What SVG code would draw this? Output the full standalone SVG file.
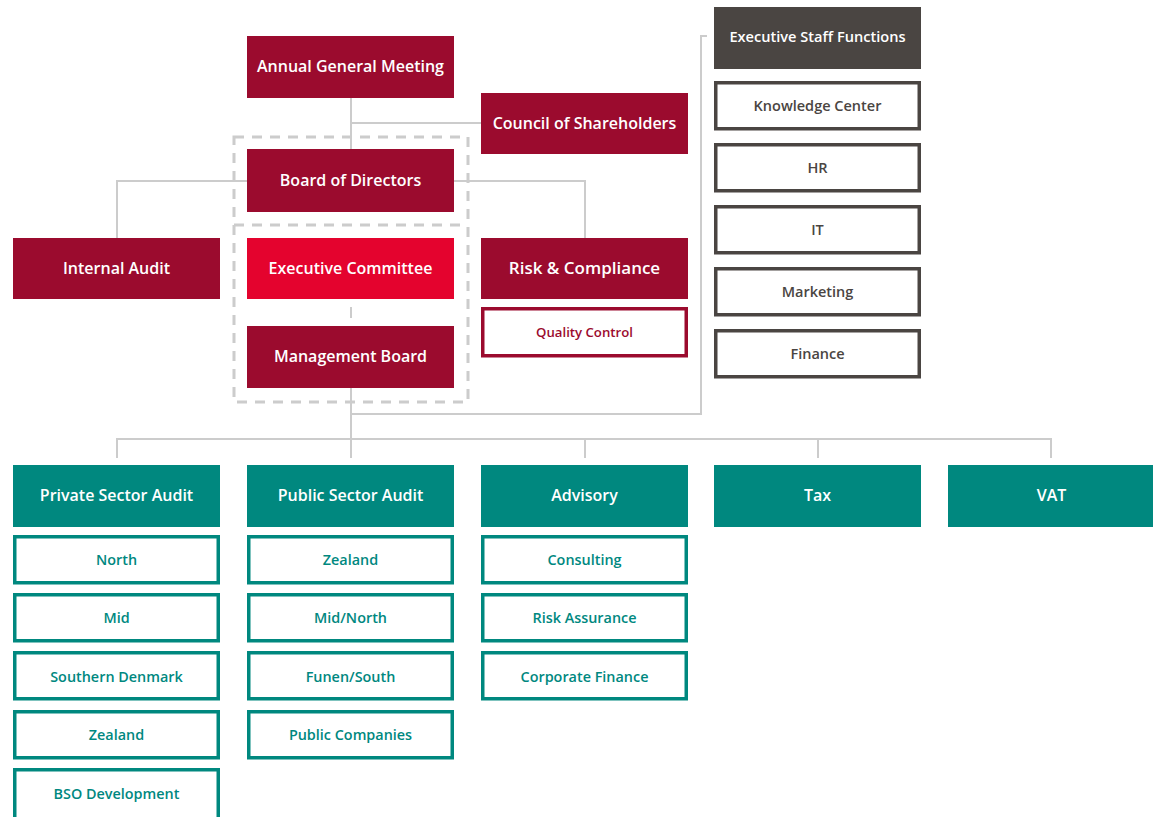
<svg xmlns="http://www.w3.org/2000/svg" width="1153" height="817" viewBox="0 0 1153 817">
<style>
.dr{fill:#9b0b2e}
.br{fill:#e4032e}
.tl{fill:#00887f}
.gy{fill:#4a4542}
.ot{fill:#fff;stroke:#00887f;stroke-width:3.5}
.og{fill:#fff;stroke:#4a4542;stroke-width:3.5}
.or{fill:#fff;stroke:#9b0b2e;stroke-width:3.5}
text{font-family:"Open Sans","Noto Sans","Liberation Sans",sans-serif;font-weight:600;text-anchor:middle;dominant-baseline:central}
.w{fill:#fff;font-size:16px}
.st{fill:#00887f;font-size:14.4px}
.sg{fill:#4a4542;font-size:14.5px}
.sr{fill:#9b0b2e;font-size:13.2px}
.ln{fill:none;stroke:#cccccc;stroke-width:2}
.ds{fill:none;stroke:#cccccc;stroke-width:3;stroke-dasharray:10 8}
</style>
<rect width="1153" height="817" fill="#fff"/>
<g id="connectors">
<path class="ln" d="M351 98V149M351 123H481"/>
<path class="ln" d="M247 181H117V238M454 181H585V238"/>
<path class="ln" d="M351 307V318"/>
<path class="ln" d="M707 36H701V414H351M351 388V458"/>
<path class="ln" d="M117 458V439H1051V458M585 439V458M818 439V458"/>
<rect class="ds" x="234" y="137" width="234" height="265"/>
<path class="ds" d="M234 225H468"/>
</g>
<g id="agm"><rect class="dr" x="247" y="36" width="207" height="62"/><text class="w" x="350.5" y="66">Annual General Meeting</text></g>
<g id="council"><rect class="dr" x="481" y="93" width="207" height="61"/><text class="w" x="584.5" y="122.5">Council of Shareholders</text></g>
<g id="board"><rect class="dr" x="247" y="149" width="207" height="63"/><text class="w" x="350.5" y="179.5">Board of Directors</text></g>
<g id="internal-audit"><rect class="dr" x="13" y="238" width="207" height="61"/><text class="w" x="116.5" y="267.5">Internal Audit</text></g>
<g id="exec-committee"><rect class="br" x="247" y="238" width="207" height="61"/><text class="w" x="350.5" y="267.5">Executive Committee</text></g>
<g id="risk"><rect class="dr" x="481" y="238" width="207" height="61"/><text class="w" x="584.5" y="267.5" style="font-size:17px">Risk &amp; Compliance</text></g>
<g id="quality"><rect class="or" x="482.75" y="308.75" width="203.5" height="47"/><text class="sr" x="584.5" y="331.5">Quality Control</text></g>
<g id="mgmt"><rect class="dr" x="247" y="326" width="207" height="62"/><text class="w" x="350.5" y="356">Management Board</text></g>
<g id="esf"><rect class="gy" x="714" y="7" width="207" height="62"/><text class="w" x="817.5" y="36" style="font-size:14.6px">Executive Staff Functions</text></g>
<g id="knowledge"><rect class="og" x="715.75" y="82.75" width="203.5" height="46"/><text class="sg" x="817.5" y="105.5">Knowledge Center</text></g>
<g id="hr"><rect class="og" x="715.75" y="144.75" width="203.5" height="46"/><text class="sg" x="817.5" y="167.5">HR</text></g>
<g id="it"><rect class="og" x="715.75" y="206.75" width="203.5" height="46"/><text class="sg" x="817.5" y="229.5">IT</text></g>
<g id="marketing"><rect class="og" x="715.75" y="268.75" width="203.5" height="46"/><text class="sg" x="817.5" y="291.5">Marketing</text></g>
<g id="finance"><rect class="og" x="715.75" y="330.75" width="203.5" height="46"/><text class="sg" x="817.5" y="353.5">Finance</text></g>
<g id="private"><rect class="tl" x="13" y="465" width="207" height="62"/><text class="w" x="116.5" y="495">Private Sector Audit</text></g>
<g id="public"><rect class="tl" x="247" y="465" width="207" height="62"/><text class="w" x="350.5" y="495">Public Sector Audit</text></g>
<g id="advisory"><rect class="tl" x="481" y="465" width="207" height="62"/><text class="w" x="584.5" y="495">Advisory</text></g>
<g id="tax"><rect class="tl" x="714" y="465" width="207" height="62"/><text class="w" x="817.5" y="495">Tax</text></g>
<g id="vat"><rect class="tl" x="948" y="465" width="207" height="62"/><text class="w" x="1051.5" y="495">VAT</text></g>
<g id="north"><rect class="ot" x="14.75" y="536.75" width="203.5" height="46"/><text class="st" x="116.5" y="559.5">North</text></g>
<g id="mid"><rect class="ot" x="14.75" y="594.75" width="203.5" height="46"/><text class="st" x="116.5" y="617.5">Mid</text></g>
<g id="southern"><rect class="ot" x="14.75" y="652.75" width="203.5" height="46"/><text class="st" x="116.5" y="676">Southern Denmark</text></g>
<g id="zealand1"><rect class="ot" x="14.75" y="711.75" width="203.5" height="46"/><text class="st" x="116.5" y="734.5">Zealand</text></g>
<g id="bso"><rect class="ot" x="14.75" y="769.75" width="203.5" height="50"/><text class="st" x="116.5" y="793.5">BSO Development</text></g>
<g id="zealand2"><rect class="ot" x="248.75" y="536.75" width="203.5" height="46"/><text class="st" x="350.5" y="559.5">Zealand</text></g>
<g id="midnorth"><rect class="ot" x="248.75" y="594.75" width="203.5" height="46"/><text class="st" x="350.5" y="617.5">Mid/North</text></g>
<g id="funen"><rect class="ot" x="248.75" y="652.75" width="203.5" height="46"/><text class="st" x="350.5" y="676">Funen/South</text></g>
<g id="pubco"><rect class="ot" x="248.75" y="711.75" width="203.5" height="46"/><text class="st" x="350.5" y="734.5">Public Companies</text></g>
<g id="consulting"><rect class="ot" x="482.75" y="536.75" width="203.5" height="46"/><text class="st" x="584.5" y="559.5">Consulting</text></g>
<g id="riskass"><rect class="ot" x="482.75" y="594.75" width="203.5" height="46"/><text class="st" x="584.5" y="617.5">Risk Assurance</text></g>
<g id="corpfin"><rect class="ot" x="482.75" y="652.75" width="203.5" height="46"/><text class="st" x="584.5" y="676">Corporate Finance</text></g>
</svg>
